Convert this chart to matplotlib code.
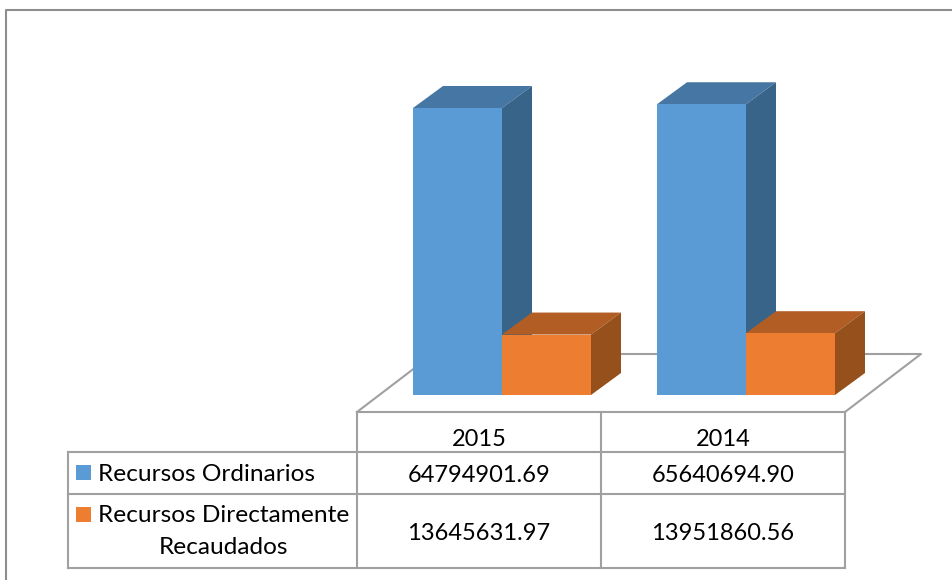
import matplotlib
matplotlib.use("Agg")
import matplotlib.pyplot as plt
from matplotlib.patches import Polygon, Rectangle

# Datos
years = ["2015", "2014"]
series_names = ["Recursos Ordinarios", "Recursos Directamente\nRecaudados"]
ordinarios = [64794901.69, 65640694.90]
directos = [13645631.97, 13951860.56]
value_labels = [["64794901.69", "65640694.90"], ["13645631.97", "13951860.56"]]

plt.rcParams["font.family"] = ["Lato", "DejaVu Sans"]

# Colores: frente, techo, lado
blue = ("#5B9BD5", "#4676A3", "#396489")
orange = ("#ED7D31", "#B25D23", "#95501C")
grid = "#A0A0A0"
border = "#8E8E8E"

# Geometria en pixeles de la imagen
base_y = 395
px_per_unit = 287 / 64794901.69
depth_x, depth_y = 30, 22
bar_w = 89
group_x = [413, 657]
col_x = [357, 601, 845]
row_y = [412, 452, 494, 568]
legend_x = 68

fig = plt.figure(figsize=(9.53, 5.8), dpi=100)
ax = fig.add_axes([0, 0, 1, 1])
ax.set_xlim(0, 953)
ax.set_ylim(580, 0)
ax.axis("off")


def bar3d(x, value, colors, z):
    top = base_y - value * px_per_unit
    right = x + bar_w
    ax.add_patch(Polygon([(x, top), (right, top), (right + depth_x, top - depth_y), (x + depth_x, top - depth_y)],
                         fc=colors[1], ec="none", zorder=z))
    ax.add_patch(Polygon([(right, top), (right + depth_x, top - depth_y), (right + depth_x, base_y - depth_y), (right, base_y)],
                         fc=colors[2], ec="none", zorder=z))
    ax.add_patch(Rectangle((x, top), bar_w, base_y - top, fc=colors[0], ec="none", zorder=z))


# Marco de la imagen
ax.plot([6.5, 6.5, 953], [580, 10, 10], color=border, lw=1.5, zorder=1)

# Piso
ax.plot([357, 433, 921, 845], [412, 354, 354, 412], color=grid, lw=1.5, zorder=1)

# Barras
for i, x in enumerate(group_x):
    bar3d(x, ordinarios[i], blue, 2)
    bar3d(x + bar_w, directos[i], orange, 3)

# Tabla de datos
ax.plot([col_x[0], col_x[2]], [row_y[0], row_y[0]], color=grid, lw=1.5, zorder=4)
for y in row_y[1:]:
    ax.plot([legend_x, col_x[2]], [y, y], color=grid, lw=1.5, zorder=4)
for x in col_x:
    ax.plot([x, x], [row_y[0], row_y[3]], color=grid, lw=1.5, zorder=4)
ax.plot([legend_x, legend_x], [row_y[1], row_y[3]], color=grid, lw=1.5, zorder=4)

fs = 17
legend_fs = 17.6
centers = [(col_x[0] + col_x[1]) / 2, (col_x[1] + col_x[2]) / 2]
for j, c in enumerate(centers):
    ax.text(c, 439, years[j], ha="center", va="center", fontsize=fs, color="black", zorder=5)
    ax.text(c, 475, value_labels[0][j], ha="center", va="center", fontsize=fs, color="black", zorder=5)
    ax.text(c, 534, value_labels[1][j], ha="center", va="center", fontsize=fs, color="black", zorder=5)

# Leyenda dentro de la tabla
ax.add_patch(Rectangle((76, 465), 15, 15, fc=blue[0], ec="none", zorder=5))
ax.add_patch(Rectangle((76, 507), 15, 15, fc=orange[0], ec="none", zorder=5))
ax.text(98, 474.5, series_names[0], ha="left", va="center", fontsize=legend_fs, color="black", zorder=5)
first, second = series_names[1].split("\n")
ax.text(98, 515.5, first, ha="left", va="center", fontsize=legend_fs, color="black", zorder=5)
ax.text(224, 548, second, ha="center", va="center", fontsize=legend_fs, color="black", zorder=5)

fig.savefig("out.png", dpi=100, facecolor="white")
